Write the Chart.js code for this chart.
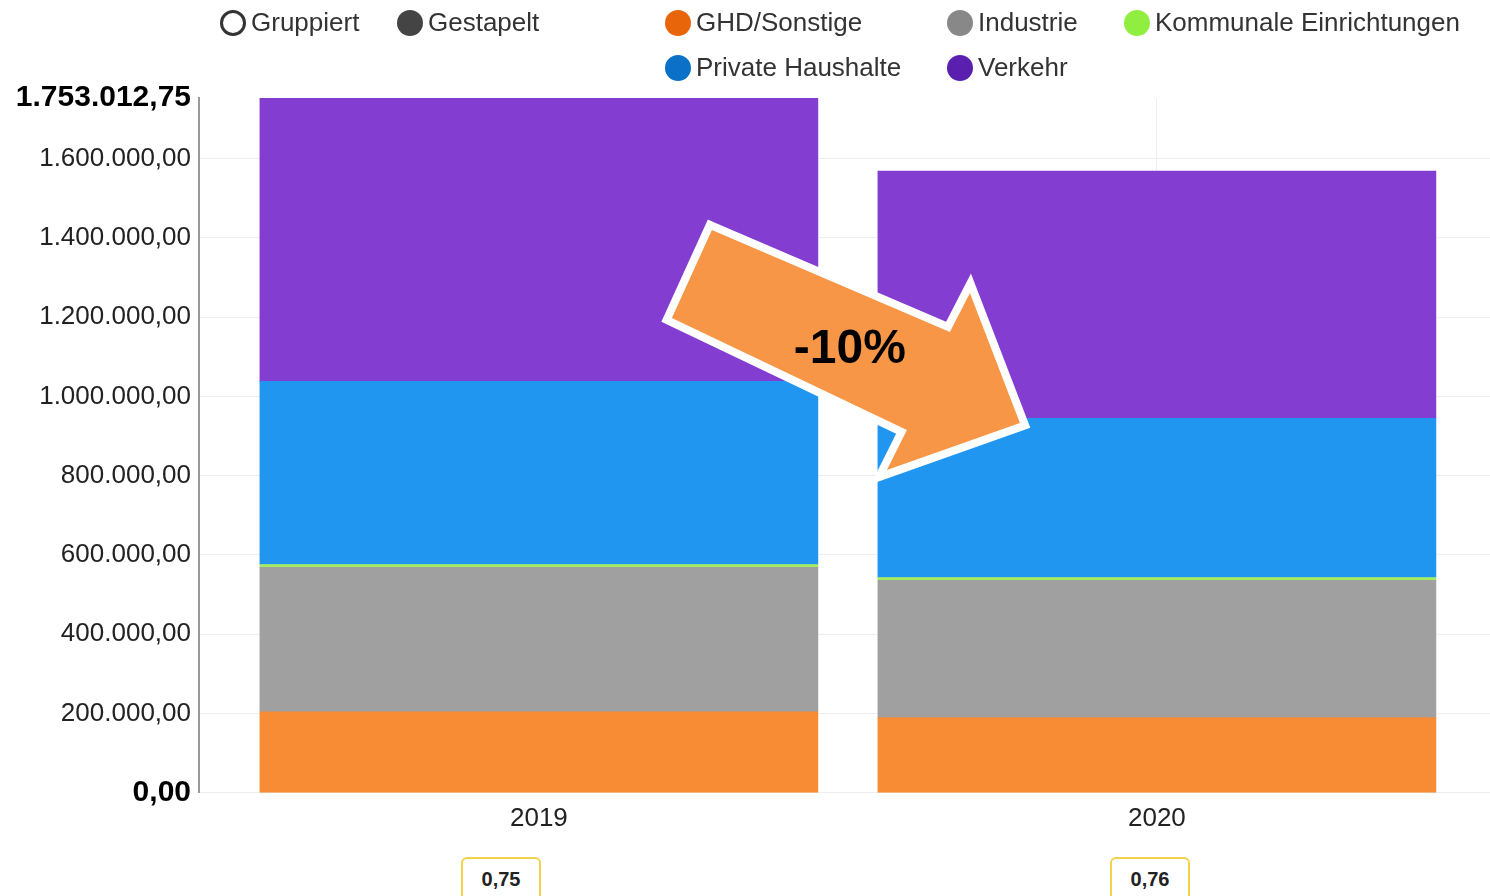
<!DOCTYPE html>
<html>
<head>
<meta charset="utf-8">
<script src="https://cdn.jsdelivr.net/npm/chart.js@4/dist/chart.umd.min.js"></script>
<style>
  body { margin: 0; background: #fff; overflow: hidden; font-family: "Liberation Sans", Arial, sans-serif; }
  #wrap { position: relative; width: 1490px; height: 896px; }
  #legend { position: absolute; left: 0; top: 0; width: 1490px; height: 90px; }
  .item { position: absolute; display: flex; align-items: center; font-size: 26px; color: #333; white-space: nowrap; }
  .dot { width: 26px; height: 26px; border-radius: 50%; margin-right: 5px; box-sizing: border-box; }
  .badge { position: absolute; width: 80px; height: 46px; border: 2px solid #f2d24a; border-radius: 6px; box-sizing: border-box;
           font-weight: bold; font-size: 20px; color: #222; text-align: center; line-height: 40px; background: #fff; }
</style>
</head>
<body>
<div id="wrap">
  <canvas id="energyChart" width="1490" height="896"></canvas>
  <div id="legend"></div>
</div>
<script>
// Jahre und Sektoren
const years = [2019, 2020];
const ghdSonstige = [204600, 189500];
const industrie = [364300, 346600];
const kommunale = [7000, 7000];
const privateHaushalte = [462300, 401600];
const verkehr = [714812.75, 624000];
const yMax = 1753012.75;
const badgeValues = ['0,75', '0,76'];

// Farben: Balken etwas heller als die Legendenpunkte
const seriesNames = ['GHD/Sonstige', 'Industrie', 'Kommunale Einrichtungen', 'Private Haushalte', 'Verkehr'];
const seriesData = [ghdSonstige, industrie, kommunale, privateHaushalte, verkehr];
const barColors = ['#f78c35', '#a0a0a0', '#a6ec5e', '#2196f0', '#833dd1'];
const dotColors = ['#e8650a', '#888888', '#90ee40', '#0a70c8', '#5b1fb0'];

function fmtDE(v) {
    const parts = v.toFixed(2).split('.');
    return parts[0].replace(/\B(?=(\d{3})+(?!\d))/g, '.') + ',' + parts[1];
}

function isEdge(ctx) {
    return ctx.tick && (ctx.tick.value === 0 || ctx.tick.value === yMax);
}

// Legende (HTML, wie im Original in Spalten angeordnet)
const legendItems = [
    { text: 'Gruppiert', left: 220, top: 23, style: 'border:3px solid #333;background:#fff' },
    { text: 'Gestapelt', left: 397, top: 23, style: 'background:#444' },
    { text: seriesNames[0], left: 665, top: 23, style: 'background:' + dotColors[0] },
    { text: seriesNames[1], left: 947, top: 23, style: 'background:' + dotColors[1] },
    { text: seriesNames[2], left: 1124, top: 23, style: 'background:' + dotColors[2] },
    { text: seriesNames[3], left: 665, top: 68, style: 'background:' + dotColors[3] },
    { text: seriesNames[4], left: 947, top: 68, style: 'background:' + dotColors[4] }
];
const legendEl = document.getElementById('legend');
legendItems.forEach(it => {
    const d = document.createElement('div');
    d.className = 'item';
    d.style.left = it.left + 'px';
    d.style.top = (it.top - 16) + 'px';
    d.innerHTML = '<span class="dot" style="' + it.style + '"></span>' + it.text;
    legendEl.appendChild(d);
});

// Kennzahlen unter den Jahren
const badgeLeft = [461, 1110];
badgeValues.forEach((t, i) => {
    const b = document.createElement('div');
    b.className = 'badge';
    b.style.left = badgeLeft[i] + 'px';
    b.style.top = '857px';
    b.textContent = t;
    document.getElementById('wrap').appendChild(b);
});

// Pfeil "-10%" als Overlay
const arrowPlugin = {
    id: 'arrow',
    afterDatasetsDraw(chart) {
        const ctx = chart.ctx;
        const cx = chart.scales.x.getPixelForValue((years[0] + years[1]) / 2);
        const cy = 350;
        const pts = [[-136, -120], [102, -18], [122, -57], [172, 73], [39, 120], [59, 80], [-176, -32]];
        ctx.save();
        ctx.beginPath();
        pts.forEach((p, i) => i ? ctx.lineTo(cx + p[0], cy + p[1]) : ctx.moveTo(cx + p[0], cy + p[1]));
        ctx.closePath();
        ctx.lineJoin = 'miter';
        ctx.lineWidth = 16;
        ctx.strokeStyle = '#ffffff';
        ctx.stroke();
        ctx.fillStyle = '#f79646';
        ctx.fill();
        ctx.fillStyle = '#000';
        ctx.font = 'bold 48px "Liberation Sans", Arial, sans-serif';
        ctx.textAlign = 'center';
        ctx.textBaseline = 'middle';
        ctx.fillText('-10%', cx + 2, cy);
        ctx.restore();
    }
};

const datasets = seriesNames.map((name, k) => ({
    label: name,
    data: years.map((yr, i) => ({ x: yr, y: seriesData[k][i] })),
    backgroundColor: barColors[k],
    borderWidth: 0,
    barThickness: 558
}));

new Chart(document.getElementById('energyChart').getContext('2d'), {
    type: 'bar',
    data: { datasets: datasets },
    plugins: [arrowPlugin],
    options: {
        responsive: false,
        animation: false,
        layout: { padding: { top: 98, right: 0, bottom: 52, left: 0 } },
        plugins: { legend: { display: false }, tooltip: { enabled: false } },
        scales: {
            x: {
                type: 'linear',
                stacked: true,
                offset: false,
                min: years[0] - 0.55,
                max: years[1] + 0.539,
                afterBuildTicks: s => { s.ticks = years.map(v => ({ value: v })); },
                grid: { color: '#eeeeee', offset: false, drawTicks: false },
                border: { color: '#eeeeee' },
                ticks: {
                    callback: v => String(v),
                    padding: 10,
                    color: '#222',
                    font: { size: 26, family: '"Liberation Sans", Arial, sans-serif' }
                }
            },
            y: {
                stacked: true,
                min: 0,
                max: yMax,
                afterBuildTicks: s => {
                    const t = [];
                    for (let v = 0; v <= 1600000; v += 200000) t.push({ value: v });
                    t.push({ value: yMax });
                    s.ticks = t;
                },
                afterFit: s => { s.width = 199; },
                grid: {
                    color: ctx => (ctx.tick && ctx.tick.value === yMax) ? 'rgba(0,0,0,0)' : '#eeeeee',
                    drawTicks: false
                },
                border: { color: '#999999', width: 2 },
                ticks: {
                    padding: 8,
                    callback: v => fmtDE(v),
                    color: ctx => isEdge(ctx) ? '#000' : '#222',
                    font: ctx => isEdge(ctx)
                        ? { size: 30, weight: 'bold', family: '"Liberation Sans", Arial, sans-serif' }
                        : { size: 26, family: '"Liberation Sans", Arial, sans-serif' }
                }
            }
        }
    }
});
</script>
</body>
</html>
